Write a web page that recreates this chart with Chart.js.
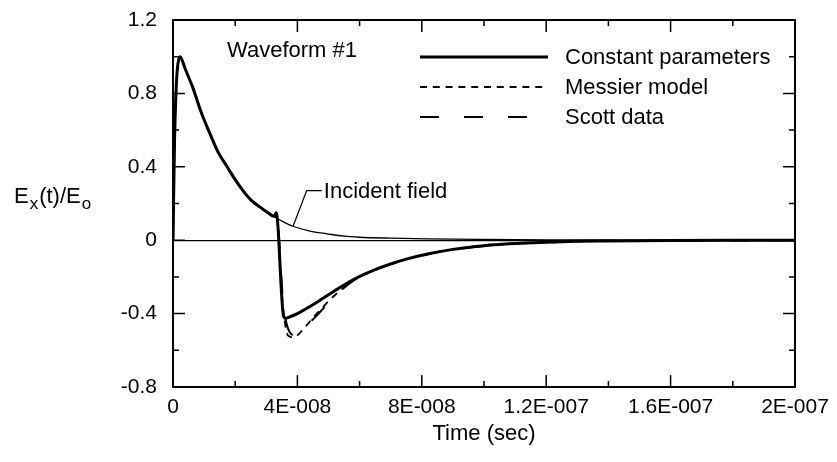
<!DOCTYPE html>
<html>
<head>
<meta charset="utf-8">
<script src="https://cdn.jsdelivr.net/npm/chart.js@4.4.1/dist/chart.umd.min.js"></script>
<style>
	html, body { margin: 0; padding: 0; background: #fff; }
	#wrap { width: 837px; height: 462px; }
</style>
</head>
<body>
<div id="wrap"><canvas id="myChart" width="837" height="462"></canvas></div>
<script>
// tick values / labels
const xTickValues = [0, 4e-8, 8e-8, 1.2e-7, 1.6e-7, 2e-7];
const xTickLabels = ['0', '4E-008', '8E-008', '1.2E-007', '1.6E-007', '2E-007'];
const yTickValues = [-0.8, -0.4, 0, 0.4, 0.8, 1.2];
const yTickLabels = ['-0.8', '-0.4', '0', '0.4', '0.8', '1.2'];

// incident field (thin line)
const incTime = [0, 0.05e-8, 0.1e-8, 0.15e-8, 0.225e-8, 0.4e-8, 0.64e-8, 0.9e-8, 1.19e-8, 1.45e-8, 1.74e-8, 2.0e-8, 2.25e-8, 2.5e-8, 2.8e-8, 3.05e-8, 3.28e-8, 3.55e-8, 3.86e-8, 4.4e-8, 4.95e-8, 5.5e-8, 6.0e-8, 7.0e-8, 8.2e-8, 10e-8, 12e-8, 14e-8, 17e-8, 20e-8];
const incValue = [0, 0.55, 0.82, 0.95, 1.0, 0.93, 0.83, 0.7, 0.58, 0.48, 0.40, 0.33, 0.27, 0.22, 0.18, 0.15, 0.125, 0.10, 0.076, 0.05, 0.035, 0.022, 0.016, 0.011, 0.007, 0.004, 0.002, 0.001, 0, 0];

// constant parameters (thick solid)
const constTime = [0, 0.05e-8, 0.1e-8, 0.15e-8, 0.225e-8, 0.4e-8, 0.64e-8, 0.9e-8, 1.19e-8, 1.45e-8, 1.74e-8, 2.0e-8, 2.25e-8, 2.5e-8, 2.8e-8, 3.05e-8, 3.25e-8, 3.32e-8, 3.55e-8, 3.62e-8, 3.75e-8, 4.0e-8, 4.66e-8, 5.2e-8, 5.85e-8, 6.5e-8, 7.0e-8, 7.5e-8, 8.26e-8, 9.0e-8, 10e-8, 10.8e-8, 12e-8, 13e-8, 14e-8, 16e-8, 18e-8, 20e-8];
const constValue = [0, 0.55, 0.82, 0.95, 1.0, 0.93, 0.83, 0.7, 0.58, 0.48, 0.40, 0.33, 0.27, 0.22, 0.18, 0.15, 0.13, 0.15, -0.41, -0.425, -0.418, -0.40, -0.335, -0.275, -0.21, -0.16, -0.129, -0.103, -0.072, -0.05, -0.03, -0.02, -0.011, -0.006, -0.004, -0.001, 0, 0];

// Messier model (short dash)
const messTime = [0, 0.05e-8, 0.1e-8, 0.15e-8, 0.225e-8, 0.4e-8, 0.64e-8, 0.9e-8, 1.19e-8, 1.45e-8, 1.74e-8, 2.0e-8, 2.25e-8, 2.5e-8, 2.8e-8, 3.05e-8, 3.25e-8, 3.32e-8, 3.5e-8, 3.7e-8, 3.9e-8, 4.05e-8, 4.57e-8, 5.2e-8, 5.85e-8, 6.5e-8, 7.0e-8, 7.5e-8, 8.26e-8, 9.0e-8, 10e-8, 10.8e-8, 12e-8, 13e-8, 14e-8, 16e-8, 18e-8, 20e-8];
const messValue = [0, 0.55, 0.82, 0.95, 1.0, 0.93, 0.83, 0.7, 0.58, 0.48, 0.40, 0.33, 0.27, 0.22, 0.18, 0.15, 0.13, 0.15, -0.3, -0.52, -0.53, -0.51, -0.41, -0.3, -0.214, -0.162, -0.131, -0.104, -0.073, -0.051, -0.031, -0.021, -0.012, -0.007, -0.004, -0.002, -0.001, 0];

// Scott data (long dash)
const scottTime = [0, 0.05e-8, 0.1e-8, 0.15e-8, 0.225e-8, 0.4e-8, 0.64e-8, 0.9e-8, 1.19e-8, 1.45e-8, 1.74e-8, 2.0e-8, 2.25e-8, 2.5e-8, 2.8e-8, 3.05e-8, 3.25e-8, 3.32e-8, 3.55e-8, 3.75e-8, 3.95e-8, 4.2e-8, 4.6e-8, 5.2e-8, 5.85e-8, 6.5e-8, 7.0e-8, 7.5e-8, 8.26e-8, 9.0e-8, 10e-8, 10.8e-8, 12e-8, 13e-8, 14e-8, 16e-8, 18e-8, 20e-8];
const scottValue = [0, 0.55, 0.82, 0.95, 1.0, 0.93, 0.83, 0.7, 0.58, 0.48, 0.40, 0.33, 0.27, 0.22, 0.18, 0.15, 0.13, 0.15, -0.35, -0.5, -0.52, -0.48, -0.415, -0.305, -0.215, -0.163, -0.132, -0.105, -0.074, -0.052, -0.032, -0.021, -0.012, -0.007, -0.004, -0.002, -0.001, 0];

const FONT = "'Liberation Sans', Arial, sans-serif";
const FS = 22;     // text
const FT = 21;     // tick labels

function pts(t, v) {
	return t.map((x, i) => ({ x: x, y: v[i] }));
}

// frame, inward ticks, legend, annotations, y title
const decorPlugin = {
	id: 'decor',
	afterDraw(chart) {
		const ctx = chart.ctx;
		const a = chart.chartArea;
		const xs = chart.scales.x, ys = chart.scales.y;
		ctx.save();
		ctx.strokeStyle = '#000';
		ctx.fillStyle = '#000';

		// frame
		ctx.lineWidth = 2;
		ctx.strokeRect(a.left, a.top, a.right - a.left, a.bottom - a.top);

		// ticks inward on all four sides
		ctx.lineWidth = 1.5;
		ctx.beginPath();
		for (let i = 0; i < xTickValues.length; i++) {
			let px = xs.getPixelForValue(xTickValues[i]);
			ctx.moveTo(px, a.bottom); ctx.lineTo(px, a.bottom - 12);
			ctx.moveTo(px, a.top); ctx.lineTo(px, a.top + 12);
			if (i < xTickValues.length - 1) {
				let pm = xs.getPixelForValue((xTickValues[i] + xTickValues[i + 1]) / 2);
				ctx.moveTo(pm, a.bottom); ctx.lineTo(pm, a.bottom - 6);
				ctx.moveTo(pm, a.top); ctx.lineTo(pm, a.top + 6);
			}
		}
		for (let i = 0; i < yTickValues.length; i++) {
			let py = ys.getPixelForValue(yTickValues[i]);
			ctx.moveTo(a.left, py); ctx.lineTo(a.left + 12, py);
			ctx.moveTo(a.right, py); ctx.lineTo(a.right - 12, py);
			if (i < yTickValues.length - 1) {
				let pm = ys.getPixelForValue((yTickValues[i] + yTickValues[i + 1]) / 2);
				ctx.moveTo(a.left, pm); ctx.lineTo(a.left + 6, pm);
				ctx.moveTo(a.right, pm); ctx.lineTo(a.right - 6, pm);
			}
		}
		ctx.stroke();

		// legend
		const rows = [57, 87, 117];
		ctx.font = FS + 'px ' + FONT;
		ctx.textBaseline = 'middle';
		ctx.textAlign = 'left';
		chart.data.datasets.slice(0, 3).forEach((ds, i) => {
			ctx.beginPath();
			ctx.lineWidth = ds.borderWidth;
			ctx.setLineDash(ds.borderDash || []);
			ctx.moveTo(420, rows[i]);
			ctx.lineTo(548, rows[i]);
			ctx.stroke();
			ctx.setLineDash([]);
			ctx.fillText(ds.label, 565, rows[i] + 1);
		});

		// waveform label
		ctx.fillText('Waveform #1', 227, 51);

		// incident field leader
		let ax = xs.getPixelForValue(3.86e-8), ay = ys.getPixelForValue(0.076);
		let ex = xs.getPixelForValue(4.3e-8), ey = ys.getPixelForValue(0.27);
		let tx = xs.getPixelForValue(4.85e-8);
		ctx.lineWidth = 1.2;
		ctx.beginPath();
		ctx.moveTo(ax, ay); ctx.lineTo(ex, ey); ctx.lineTo(tx - 2, ey);
		ctx.stroke();
		ctx.fillText('Incident field', tx, ey + 1);

		// y title with subscripts
		let x0 = 14, y0 = 197;
		ctx.font = FS + 'px ' + FONT;
		ctx.fillText('E', x0, y0); x0 += ctx.measureText('E').width + 1;
		ctx.font = '17px ' + FONT;
		ctx.fillText('x', x0, y0 + 7); x0 += ctx.measureText('x').width + 1;
		ctx.font = FS + 'px ' + FONT;
		ctx.fillText('(t)/E', x0, y0); x0 += ctx.measureText('(t)/E').width + 1;
		ctx.font = '17px ' + FONT;
		ctx.fillText('o', x0, y0 + 7);

		ctx.restore();
	}
};

const ctx = document.getElementById('myChart').getContext('2d');
const chart = new Chart(ctx, {
	type: 'line',
	data: {
		datasets: [{
			label: 'Constant parameters',
			data: pts(constTime, constValue),
			borderColor: '#000',
			borderWidth: 3,
			pointRadius: 0,
			cubicInterpolationMode: 'monotone',
			fill: false
		}, {
			label: 'Messier model',
			data: pts(messTime, messValue),
			borderColor: '#000',
			borderWidth: 1.8,
			borderDash: [7, 5.8],
			pointRadius: 0,
			cubicInterpolationMode: 'monotone',
			fill: false
		}, {
			label: 'Scott data',
			data: pts(scottTime, scottValue),
			borderColor: '#000',
			borderWidth: 2,
			borderDash: [19, 25],
			pointRadius: 0,
			cubicInterpolationMode: 'monotone',
			fill: false
		}, {
			label: 'Incident field',
			data: pts(incTime, incValue),
			borderColor: '#000',
			borderWidth: 1.3,
			pointRadius: 0,
			cubicInterpolationMode: 'monotone',
			fill: false
		}]
	},
	options: {
		responsive: false,
		animation: false,
		layout: { padding: { left: 0, right: 42, top: 20, bottom: 0 } },
		plugins: {
			legend: { display: false },
			tooltip: { enabled: false }
		},
		scales: {
			x: {
				type: 'linear',
				min: 0,
				max: 2e-7,
				afterBuildTicks: s => { s.ticks = xTickValues.map(v => ({ value: v })); },
				afterFit: s => { s.height = 75; },
				grid: { display: false, drawTicks: false },
				border: { display: false },
				ticks: {
					color: '#000',
					font: { family: FONT, size: FT },
					padding: 8,
					maxRotation: 0,
					autoSkip: false,
					callback: (v, i) => xTickLabels[i]
				},
				title: {
					display: true,
					text: 'Time (sec)',
					color: '#000',
					font: { family: FONT, size: FS },
					padding: { top: 0, bottom: 15 }
				}
			},
			y: {
				type: 'linear',
				min: -0.8,
				max: 1.2,
				afterBuildTicks: s => { s.ticks = yTickValues.map(v => ({ value: v })); },
				afterFit: s => { s.width = 173; s.paddingTop = 0; s.paddingBottom = 0; },
				grid: {
					drawTicks: false,
					color: c => (c.tick && c.tick.value === 0) ? '#000' : 'rgba(0,0,0,0)',
					lineWidth: 1.3
				},
				border: { display: false },
				ticks: {
					color: '#000',
					font: { family: FONT, size: FT },
					padding: 16,
					autoSkip: false,
					callback: (v, i) => yTickLabels[i]
				}
			}
		}
	},
	plugins: [decorPlugin]
});
</script>
</body>
</html>
